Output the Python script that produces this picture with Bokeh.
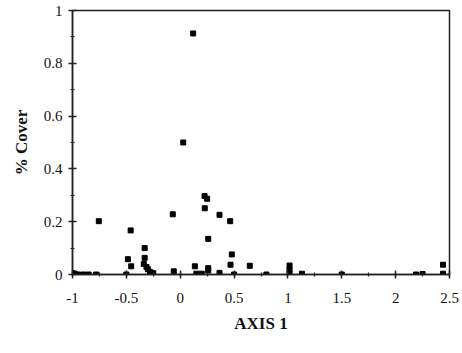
from bokeh.plotting import figure
from bokeh.models import SingleIntervalTicker, CustomJSTickFormatter, Range1d
from bokeh.embed import file_html
from bokeh.resources import INLINE

# Data (AXIS 1 score vs % cover)
axis1 = [-1.0, -0.98, -0.95, -0.9, -0.85, -0.78, -0.756, -0.5, -0.486, -0.46,
         -0.455, -0.33, -0.33, -0.338, -0.313, -0.30, -0.28, -0.25, -0.069, -0.06,
         0.028, 0.12, 0.136, 0.15, 0.2, 0.226, 0.25, 0.228, 0.26, 0.26,
         0.26, 0.365, 0.365, 0.464, 0.479, 0.467, 0.5, 0.646, 0.8, 1.015,
         1.015, 1.015, 1.13, 1.5, 2.19, 2.25, 2.44, 2.44]
cover = [0.005, 0.003, 0.0, 0.0, 0.0, 0.0, 0.202, 0.0, 0.058, 0.167,
         0.031, 0.10, 0.063, 0.04, 0.028, 0.02, 0.01, 0.005, 0.228, 0.012,
         0.50, 0.913, 0.031, 0.003, 0.003, 0.297, 0.287, 0.251, 0.135, 0.024,
         0.015, 0.226, 0.006, 0.202, 0.076, 0.037, 0.0, 0.033, 0.0, 0.034,
         0.019, 0.005, 0.003, 0.0, 0.0, 0.002, 0.037, 0.003]

SERIF = "Liberation Serif"

p = figure(width=462, height=353, output_backend="svg", toolbar_location=None,
           x_range=Range1d(-1, 2.5), y_range=Range1d(0, 1),
           min_border_left=72, min_border_right=13, min_border_top=10, min_border_bottom=79)

p.scatter(axis1, cover, marker="square", size=5, color="black")

p.grid.visible = False
p.outline_line_color = "#222222"
p.outline_line_width = 1.5
p.background_fill_color = "white"
p.border_fill_color = "white"

fmt = CustomJSTickFormatter(code="return Number(tick.toFixed(2)).toString();")

p.xaxis.ticker = SingleIntervalTicker(interval=0.5, num_minor_ticks=2)
p.yaxis.ticker = SingleIntervalTicker(interval=0.2, num_minor_ticks=2)
for ax in (p.xaxis, p.yaxis):
    ax.formatter = fmt
    ax.axis_line_color = "#222222"
    ax.axis_line_width = 1.5
    ax.major_tick_line_color = "#222222"
    ax.major_tick_line_width = 1.5
    ax.minor_tick_line_color = "#222222"
    ax.minor_tick_line_width = 1.2
    ax.major_tick_in = 4
    ax.major_tick_out = 4
    ax.minor_tick_in = 2
    ax.minor_tick_out = 2
    ax.major_label_text_font = SERIF
    ax.major_label_text_font_size = "15px"
    ax.major_label_text_color = "#111111"
    ax.axis_label_text_font = SERIF
    ax.axis_label_text_font_style = "bold"
    ax.axis_label_text_font_size = "17px"
    ax.axis_label_text_color = "#111111"

p.xaxis.axis_label = "AXIS 1"
p.yaxis.axis_label = "% Cover"
p.xaxis.major_label_standoff = 14
p.yaxis.major_label_standoff = 6
p.xaxis.axis_label_standoff = 8
p.yaxis.axis_label_standoff = 10

open("out.html", "w").write(file_html(p, INLINE))
